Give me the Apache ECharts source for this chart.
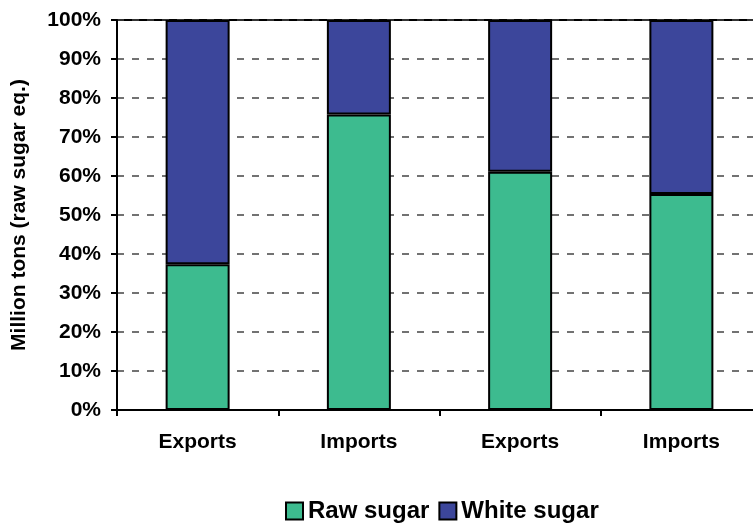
<!DOCTYPE html>
<html>
<head>
<meta charset="utf-8">
<script src="https://cdn.jsdelivr.net/npm/echarts@6/dist/echarts.min.js"></script>
<style>
  html, body { margin: 0; padding: 0; background: #fff; }
  #chart { width: 753px; height: 523px; }
</style>
</head>
<body>
<div id="chart"></div>
<script>
// Trade flows split by sugar type, shares in percent
const categories = ['Exports', 'Imports', 'Exports', 'Imports'];
const rawSugar = [37.4, 75.8, 61.1, 55.4];
const whiteSugar = [62.6, 24.2, 38.9, 44.6];
const yTicks = [0, 10, 20, 30, 40, 50, 60, 70, 80, 90, 100];

const FONT = '"Liberation Sans", Arial, sans-serif';
const chart = echarts.init(document.getElementById('chart'), null, { renderer: 'canvas' });

chart.setOption({
  animation: false,
  backgroundColor: '#ffffff',
  textStyle: { fontFamily: FONT },
  grid: {
    left: 117, top: 20, width: 645, height: 390,
    containLabel: false,
    outerBoundsMode: 'none',
    show: true, borderColor: '#000', borderWidth: 2, backgroundColor: 'transparent'
  },
  legend: {
    top: 494,
    left: 280,
    itemWidth: 17, itemHeight: 17,
    itemGap: 9,
    icon: 'rect',
    textStyle: { fontFamily: FONT, fontWeight: 'bold', fontSize: 24, color: '#000' },
    data: ['Raw sugar', 'White sugar']
  },
  xAxis: {
    type: 'category',
    data: categories,
    axisLine: { lineStyle: { color: '#000', width: 2 } },
    axisTick: { show: true, length: 6, lineStyle: { color: '#000', width: 2 } },
    axisLabel: { fontFamily: FONT, fontWeight: 'bold', fontSize: 21, color: '#000', margin: 22 },
    splitLine: { show: false }
  },
  yAxis: {
    type: 'value',
    min: yTicks[0], max: yTicks[yTicks.length - 1], interval: 10,
    name: 'Million tons (raw sugar eq.)',
    nameLocation: 'middle',
    nameGap: 87,
    nameRotate: 90,
    nameTextStyle: { fontFamily: FONT, fontWeight: 'bold', fontSize: 21, color: '#000' },
    axisLine: { show: true, lineStyle: { color: '#000', width: 2 } },
    axisTick: { show: true, length: 6, lineStyle: { color: '#000', width: 2 } },
    axisLabel: {
      fontFamily: FONT, fontWeight: 'bold', fontSize: 21, color: '#000', margin: 16,
      formatter: v => v + '%'
    },
    splitLine: { show: true, lineStyle: { color: '#444', width: 1.5, type: [7, 8] } }
  },
  series: [
    {
      name: 'Raw sugar', type: 'bar', stack: 'share', barWidth: 64,
      data: rawSugar,
      itemStyle: { color: '#3dbb8f', borderColor: '#000', borderWidth: 2 }
    },
    {
      name: 'White sugar', type: 'bar', stack: 'share', barWidth: 64,
      data: whiteSugar,
      itemStyle: { color: '#3c469b', borderColor: '#000', borderWidth: 2 }
    }
  ]
});
</script>
</body>
</html>
